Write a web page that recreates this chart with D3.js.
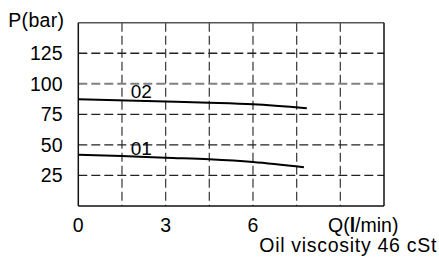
<!DOCTYPE html>
<html><head><meta charset="utf-8">
<script src="https://cdn.jsdelivr.net/npm/d3@7"></script>
<style>body{margin:0;background:#fff}svg{display:block}text{font-family:"Liberation Sans",Arial,sans-serif;fill:#000}</style>
</head><body><svg id="c" width="439" height="260"></svg>
<script>
const xTicks = [0, 3, 6];
const yTicks = [25, 50, 75, 100, 125];
const xGrid = [1.5, 3, 4.5, 6, 7.5, 9];
const yGrid = [25, 50, 75, 100, 125];
const series01Q = [0, 1.5, 3, 4.5, 6, 7.75];
const series01P = [42, 41, 39.5, 38.2, 36, 31.7];
const series02Q = [0, 3, 4.5, 6, 7.85];
const series02P = [87.3, 85.5, 84.5, 83.2, 80];
const seriesNames = ["01", "02"];
const labelPos = [[1.8, 41.5], [1.8, 88]];

const svg = d3.select("#c");
const L = 78.3, R = 384, T = 22.7, B = 206;
const x = d3.scaleLinear().domain([0, 10.5]).range([L, R]);
const y = d3.scaleLinear().domain([0, 150]).range([B, T]);

// grid
svg.selectAll(".vg").data(xGrid).join("line")
  .attr("x1", d => x(d)).attr("x2", d => x(d)).attr("y1", T).attr("y2", B)
  .attr("stroke", "#444").attr("stroke-width", 1.3).attr("stroke-dasharray", "9,4");
svg.selectAll(".hg").data(yGrid).join("line")
  .attr("x1", L).attr("x2", R).attr("y1", d => y(d)).attr("y2", d => y(d))
  .attr("stroke", d => d === 100 ? "#808080" : "#222")
  .attr("stroke-width", d => d === 100 ? 2 : 1.3)
  .attr("stroke-dasharray", "9,4");

// frame
svg.append("line").attr("x1", L).attr("x2", R).attr("y1", T).attr("y2", T).attr("stroke", "#555").attr("stroke-width", 1.5);
svg.append("line").attr("x1", L).attr("x2", L).attr("y1", T).attr("y2", B).attr("stroke", "#111").attr("stroke-width", 1.5);
svg.append("line").attr("x1", R).attr("x2", R).attr("y1", T).attr("y2", B).attr("stroke", "#111").attr("stroke-width", 1.5);
svg.append("line").attr("x1", L).attr("x2", R).attr("y1", B).attr("y2", B).attr("stroke", "#111").attr("stroke-width", 1.5);

// curves
const line = d3.line().x(d => x(d[0])).y(d => y(d[1])).curve(d3.curveMonotoneX);
const s1 = series01Q.map((q, i) => [q, series01P[i]]);
const s2 = series02Q.map((q, i) => [q, series02P[i]]);
[s1, s2].forEach(s => svg.append("path").attr("d", line(s)).attr("fill", "none").attr("stroke", "#000").attr("stroke-width", 2));

// series labels
svg.selectAll(".sl").data(seriesNames).join("text")
  .attr("x", (d, i) => x(labelPos[i][0])).attr("y", (d, i) => y(labelPos[i][1]) + 0)
  .attr("font-size", 19).text(d => d);

// y tick labels
svg.selectAll(".yt").data(yTicks).join("text")
  .attr("x", 62.5).attr("y", d => y(d) + 7).attr("text-anchor", "end")
  .attr("font-size", 19.5).text(d => d);
// x tick labels
svg.selectAll(".xt").data(xTicks).join("text")
  .attr("x", d => x(d)).attr("y", 231.5).attr("text-anchor", "middle")
  .attr("font-size", 19.5).text(d => d);

svg.append("text").attr("x", 8.3).attr("y", 27).attr("font-size", 19.5).attr("letter-spacing", 0.3).text("P(bar)");
const q = svg.append("text").attr("x", 328).attr("y", 231.5).attr("font-size", 19.5);
q.append("tspan").text("Q(");
q.append("tspan").attr("font-weight", "bold").text("l");
q.append("tspan").text("/min)");
svg.append("text").attr("x", 259.3).attr("y", 252).attr("font-size", 19.5).attr("textLength", 177).text("Oil viscosity 46 cSt");
</script></body></html>
